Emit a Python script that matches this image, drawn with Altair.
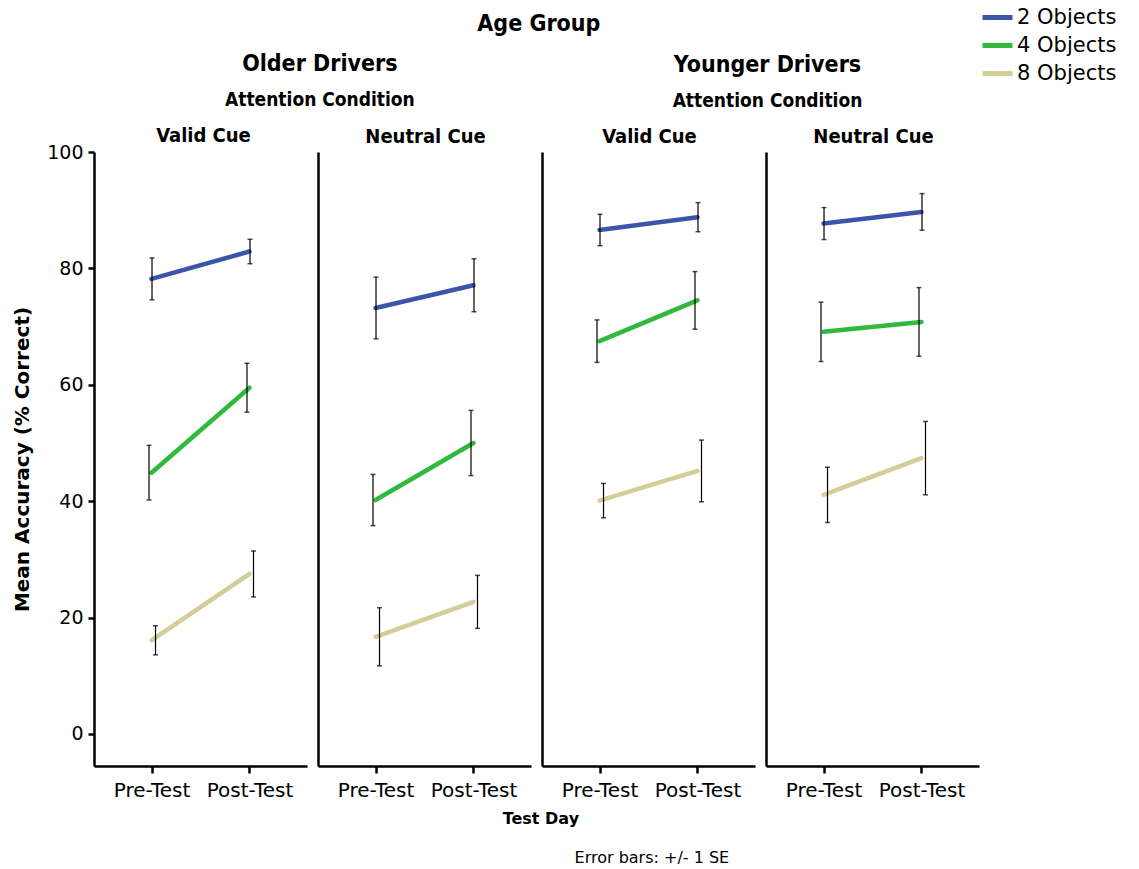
import altair as alt
import pandas as pd

age_groups = ["Older Drivers", "Younger Drivers"]
conditions = ["Valid Cue", "Neutral Cue"]
test_days = ["Pre-Test", "Post-Test"]
series_names = ["2 Objects", "4 Objects", "8 Objects"]
series_colors = ["#3b56a9", "#2fba3f", "#d4cd98"]

# Panel order: Older/Valid, Older/Neutral, Younger/Valid, Younger/Neutral; Pre then Post in each
mean_2 = [78.2, 82.9, 73.2, 77.1, 86.6, 88.8, 87.7, 89.7]
mean_4 = [44.9, 59.5, 40.2, 50.0, 67.5, 74.5, 69.1, 70.8]
mean_8 = [16.1, 27.5, 16.7, 22.7, 40.1, 45.2, 41.1, 47.4]
se_2 = [3.6, 2.1, 5.3, 4.55, 2.7, 2.5, 2.75, 3.15]
se_4 = [4.7, 4.2, 4.4, 5.6, 3.65, 4.95, 5.1, 5.9]
se_8 = [2.5, 3.95, 5.0, 4.55, 2.95, 5.3, 4.75, 6.3]

rows = []
for name, means, ses in zip(series_names, [mean_2, mean_4, mean_8], [se_2, se_4, se_8]):
    i = 0
    for age in age_groups:
        for cond in conditions:
            for day in test_days:
                m, s = means[i], ses[i]
                rows.append({"age": age, "cond": cond, "day": day, "series": name,
                             "mean": m, "lo": m - s, "hi": m + s})
                i += 1
df = pd.DataFrame(rows)

TITLE_FONT = "Liberation Sans Narrow, DejaVu Sans Condensed, Roboto"
BODY_FONT = "DejaVu Sans"
PANEL_W, PANEL_H = 213, 614
GAP = 11
# small horizontal dodge of the error bars per series
bar_offsets = {"2 Objects": 0.5, "4 Objects": -2.5, "8 Objects": 4}
group_dx = {"Older Drivers": 48, "Younger Drivers": 7}

y_scale = alt.Scale(domain=[-5.5, 100], nice=False, zero=False)
x_scale = alt.Scale(type="point", domain=test_days, padding=0.587)
x_axis = alt.Axis(title=None, labelFontSize=20, labelFont=BODY_FONT, labelColor="black",
                  labelAngle=0, labelPadding=7, tickSize=7, tickWidth=2.5, tickColor="black",
                  domainWidth=2.5, domainColor="black", grid=False)


def panel(age, cond, first):
    base = alt.Chart(df).transform_filter(
        (alt.datum.age == age) & (alt.datum.cond == cond))
    x = alt.X("day:N", sort=test_days, scale=x_scale, axis=x_axis)
    if first:
        y_axis = alt.Axis(values=[0, 20, 40, 60, 80, 100], title="Mean Accuracy (% Correct)",
                          titleFont=BODY_FONT, titleFontSize=20, titleFontWeight="bold",
                          titleColor="black", titlePadding=14,
                          labelFont=BODY_FONT, labelFontSize=19, labelColor="black",
                          labelPadding=5, tickSize=6, tickWidth=2.5, tickColor="black",
                          domainWidth=2.5, domainColor="black", grid=False)
        legend = alt.Legend(title=None, orient="none", legendX=886, legendY=-152,
                            symbolType="stroke", symbolStrokeWidth=5, symbolSize=900,
                            labelFont=BODY_FONT, labelFontSize=21, labelColor="black",
                            rowPadding=-7, labelOffset=2)
        title_offset, title_dx = -3, 3
    else:
        y_axis = alt.Axis(title=None, labels=False, ticks=False, domainWidth=2.5,
                          domainColor="black", grid=False)
        legend = None
        title_offset, title_dx = 5, 1
    y_title = "Mean Accuracy (% Correct)" if first else None
    line = base.mark_line(strokeWidth=4.5, strokeCap="round").encode(
        x=x,
        y=alt.Y("mean:Q", scale=y_scale, axis=y_axis, title=y_title),
        color=alt.Color("series:N", scale=alt.Scale(domain=series_names, range=series_colors),
                        legend=legend),
    )
    layers = [line]
    for s in series_names:
        b = base.transform_filter(alt.datum.series == s)
        off = bar_offsets[s]
        layers.append(b.mark_rule(color="black", strokeWidth=1.2, xOffset=off).encode(
            x=x, y=alt.Y("lo:Q", scale=y_scale, axis=y_axis, title=y_title), y2="hi:Q"))
        for f in ["lo", "hi"]:
            layers.append(b.mark_tick(color="black", orient="horizontal", size=5,
                                      thickness=1.5, xOffset=off).encode(
                x=x, y=alt.Y(f"{f}:Q", scale=y_scale, axis=y_axis, title=y_title)))
    return alt.layer(*layers).properties(
        width=PANEL_W, height=PANEL_H,
        title=alt.TitleParams(cond, font=TITLE_FONT, fontSize=20, fontWeight="bold",
                              color="black", offset=title_offset, dx=title_dx,
                              anchor="middle"))


groups = []
for gi, age in enumerate(age_groups):
    panels = [panel(age, c, gi == 0 and ci == 0) for ci, c in enumerate(conditions)]
    groups.append(alt.hconcat(*panels, spacing=GAP).properties(
        title=alt.TitleParams(age, subtitle="Attention Condition", font=TITLE_FONT,
                              fontSize=23, fontWeight="bold", color="black",
                              subtitleFont=TITLE_FONT, subtitleFontSize=19,
                              subtitleFontWeight="bold", subtitleColor="black",
                              subtitlePadding=15, offset=16, anchor="middle",
                              dx=group_dx[age])))

core = alt.hconcat(*groups, spacing=GAP).properties(
    title=alt.TitleParams("Age Group", font=TITLE_FONT, fontSize=23, fontWeight="bold",
                          color="black", offset=17, anchor="middle", dx=43))

with_xtitle = alt.hconcat(core).properties(
    title=alt.TitleParams("Test Day", orient="bottom", font=BODY_FONT, fontSize=16,
                          fontWeight="bold", color="black", anchor="middle", dx=45, offset=11))

chart = alt.hconcat(with_xtitle).properties(
    background="white",
    padding={"left": 12, "top": 0, "right": 5, "bottom": 2},
    title=alt.TitleParams("Error bars: +/- 1 SE", orient="bottom", font=BODY_FONT,
                          fontSize=16, fontWeight="normal", color="black",
                          anchor="middle", dx=87, offset=23)
).configure_view(stroke=None)

chart.save("out.html", embed_options={"renderer": "svg", "actions": False})
